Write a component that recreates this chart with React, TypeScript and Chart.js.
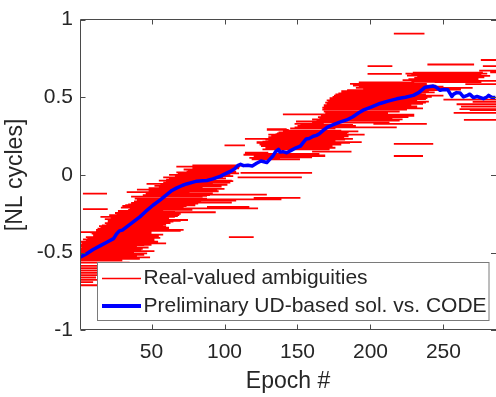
import React, { useEffect, useRef } from "react";
import { Chart, registerables } from "chart.js";

Chart.register(...registerables);

const FONT = "'Liberation Sans', Arial, Helvetica, sans-serif";
const TEXT = "#262626";

const xRange = [1, 286];
const yRange = [-1, 1];
const xTickValues = [50, 100, 150, 200, 250];
const yTickValues = [-1, -0.5, 0, 0.5, 1];
const xTitle = "Epoch #";
const yTitle = "[NL cycles]";
const seriesLabels = ["Real-valued ambiguities", "Preliminary UD-based sol. vs. CODE"];

// Preliminary UD-based solution vs. CODE (blue line)
const blueEpochs = [
  1, 5, 10, 15, 20, 24, 26, 28, 30, 35, 42, 46, 51, 56, 60, 64, 67, 71, 74, 78,
  81, 85, 88, 92, 97, 100, 104, 107, 109, 111, 113, 116, 119, 122, 125, 127, 129, 131, 133, 135,
  137, 138, 140, 142.6, 146, 149, 152, 154, 156, 158, 160.8, 163, 165, 168, 171, 175, 179, 183.7, 188, 192,
  195, 200, 206.6, 212, 218, 224, 229.4, 233, 237.5, 240, 243, 245, 247.7, 250, 253, 255.8, 257, 259, 261.5, 263.7,
  266, 268, 270.6, 273, 277.4, 279.8, 281, 283, 285.5,
];
const blueValues = [
  -0.53, -0.51, -0.48, -0.455, -0.43, -0.41, -0.38, -0.36, -0.355, -0.32, -0.27, -0.235, -0.195, -0.16, -0.13, -0.1, -0.085, -0.068, -0.058, -0.048,
  -0.04, -0.038, -0.036, -0.025, -0.009, 0.005, 0.023, 0.04, 0.06, 0.069, 0.06, 0.062, 0.058, 0.075, 0.09, 0.085, 0.08, 0.1, 0.12, 0.15,
  0.165, 0.147, 0.15, 0.143, 0.16, 0.175, 0.186, 0.21, 0.232, 0.235, 0.249, 0.255, 0.265, 0.29, 0.31, 0.325, 0.34, 0.354, 0.375, 0.4,
  0.417, 0.435, 0.46, 0.475, 0.49, 0.5, 0.512, 0.53, 0.565, 0.568, 0.572, 0.565, 0.545, 0.55, 0.548, 0.505, 0.52, 0.53, 0.527, 0.502,
  0.51, 0.52, 0.498, 0.505, 0.491, 0.502, 0.512, 0.5, 0.498,
];

// Real-valued ambiguities (horizontal segments): start epoch, end epoch, value
const segStart = [
  1, 1, 1, 1, 1, 1, 1, 1, 1, 1,
  1, 1, 1, 1, 1, 1, 1, 1, 1, 2,
  1, 3, 6, 5, 10, 10, 8, 1, 12, 12,
  15, 14, 19, 20, 22, 18, 15, 21, 25, 36,
  27, 34, 3, 35, 29, 88, 32, 42, 36, 44,
  42, 45, 38.5, 120, 36, 44, 50, 3, 33, 50,
  40, 48, 52, 46.6, 65, 55, 60, 58, 109, 62,
  70, 111, 67, 75, 72, 81, 67, 78, 99, 118.6,
  117, 120, 216, 138, 113, 114, 160, 125, 100, 216,
  122, 122, 126, 128, 137, 114, 130, 140, 132, 130,
  135, 137, 140, 129, 129, 145, 148, 150, 148, 202,
  160, 149, 163, 264, 165, 166, 140, 169, 257, 268,
  167, 261, 167, 168, 259, 169, 170, 250, 172, 175,
  178, 180, 195, 190, 188, 186, 265, 228, 260, 222,
  230, 225, 198, 224, 229, 282, 274.5, 198, 277, 239,
  275.6, 216, 103, 89, 192,
  1, 1, 1, 2, 4, 5, 8, 9, 13, 16,
  18, 20, 22, 24, 26, 28, 30, 34, 38, 40,
  44, 46, 48, 52, 55, 56, 58, 60, 62, 66,
  68, 74, 78, 120, 124, 126, 128, 124, 130, 134,
  136, 142, 150, 152, 160, 164, 166, 168, 168, 168,
  170, 171, 172, 174, 176, 180, 184, 192, 226, 232,
  228, 232, 236, 240, 244, 262, 270,
];
const segEnd = [
  13, 10, 16, 12, 20, 15, 22, 18, 26, 35,
  30, 42, 49, 45, 38, 52, 44, 40, 50, 60,
  54.5, 46, 52, 48, 55, 58, 50, 19.5, 70, 72,
  62, 60, 60, 65, 75, 55, 66, 69, 62, 94,
  58, 78, 20, 123, 72, 117, 80, 82, 70, 105,
  108, 139, 88, 152, 85, 90, 129, 19.5, 76, 95,
  80, 85, 97, 92, 98, 105, 94, 99, 153, 104,
  102, 160, 108, 104, 106, 108, 110.6, 108, 115, 151.7,
  138, 169, 236, 169, 131, 130, 187, 174, 114, 243,
  186, 194, 170, 182.6, 188, 138, 172, 185, 168, 196,
  178, 185, 191.7, 144, 142.6, 176, 218, 182, 168, 238.6,
  213, 179, 220, 286, 215, 230, 212, 212, 286, 286,
  225, 286, 232, 228, 286, 238, 232, 286, 239, 250,
  235, 240, 262, 270, 245, 238.6, 286, 268, 286, 272,
  265, 270, 221.5, 280, 277, 286, 286, 215, 286, 271,
  286, 237, 120, 100, 230,
  40, 47, 43, 48, 45, 52, 56, 50, 62, 58,
  63, 70, 62, 68, 70, 66, 74, 80, 84, 90,
  88, 92, 96, 100, 98, 102, 104, 106, 101, 106,
  110, 108, 110, 160, 165, 172, 176, 180, 176, 182,
  184, 180, 190, 188, 222, 226, 230, 220, 236, 232,
  236, 240, 238, 242, 238, 244, 246, 250, 274, 270,
  276, 278, 272, 282, 276, 286, 286,
];
const segValue = [
  -0.71, -0.69, -0.675, -0.66, -0.645, -0.63, -0.615, -0.6, -0.585, -0.565,
  -0.55, -0.54, -0.53, -0.515, -0.5, -0.49, -0.475, -0.46, -0.45, -0.44,
  -0.43, -0.415, -0.41, -0.4, -0.395, -0.384, -0.37, -0.368, -0.36, -0.353,
  -0.34, -0.33, -0.317, -0.3, -0.29, -0.285, -0.27, -0.258, -0.245, -0.24,
  -0.232, -0.225, -0.22, -0.215, -0.21, -0.205, -0.195, -0.185, -0.18, -0.178,
  -0.165, -0.157, -0.153, -0.148, -0.14, -0.13, -0.127, -0.12, -0.11, -0.1,
  -0.095, -0.085, -0.07, -0.058, -0.045, -0.036, -0.03, -0.015, -0.015, 0.0,
  0.005, 0.014, 0.016, 0.03, 0.035, 0.048, 0.054, 0.062, 0.06, 0.1,
  0.11, 0.122, 0.122, 0.126, 0.13, 0.143, 0.15, 0.185, 0.19, 0.2,
  0.206, 0.211, 0.215, 0.227, 0.232, 0.232, 0.243, 0.249, 0.255, 0.26,
  0.262, 0.274, 0.28, 0.29, 0.295, 0.3, 0.306, 0.31, 0.329, 0.329,
  0.337, 0.344, 0.35, 0.354, 0.365, 0.38, 0.39, 0.396, 0.4, 0.417,
  0.42, 0.424, 0.434, 0.45, 0.455, 0.465, 0.48, 0.485, 0.495, 0.51,
  0.525, 0.54, 0.55, 0.56, 0.575, 0.586, 0.585, 0.6, 0.605, 0.61,
  0.625, 0.64, 0.65, 0.652, 0.658, 0.66, 0.672, 0.7, 0.7, 0.711,
  0.74, 0.91, -0.4, -0.21, 0.595,
  -0.523, -0.505, -0.482, -0.467, -0.452, -0.422, -0.405, -0.377, -0.345, -0.325,
  -0.31, -0.295, -0.278, -0.265, -0.25, -0.238, -0.2, -0.19, -0.17, -0.16,
  -0.135, -0.118, -0.105, -0.09, -0.075, -0.063, -0.05, -0.04, -0.022, -0.008,
  0.01, 0.022, 0.042, 0.114, 0.135, 0.165, 0.175, 0.195, 0.22, 0.237,
  0.268, 0.285, 0.315, 0.322, 0.358, 0.372, 0.388, 0.408, 0.428, 0.442,
  0.458, 0.472, 0.488, 0.503, 0.518, 0.532, 0.546, 0.568, 0.617, 0.632,
  0.645, 0.628, 0.612, 0.638, 0.597, 0.44, 0.47,
];

const framePlugin = {
  id: "matlabFrame",
  afterDraw(chart: any) {
    const { ctx, chartArea: a, scales } = chart;
    const L = Math.floor(a.left) + 0.5;
    const T = Math.round(a.top) - 0.5;
    const B = Math.round(a.bottom) - 0.5;
    const R = a.right;
    const tl = 5;
    ctx.save();
    ctx.strokeStyle = "#4a4a4a";
    ctx.lineWidth = 1;
    ctx.beginPath();
    ctx.moveTo(R, T);
    ctx.lineTo(L, T);
    ctx.lineTo(L, B);
    ctx.lineTo(R, B);
    for (const v of xTickValues) {
      const px = Math.round(scales.x.getPixelForValue(v)) + 0.5;
      ctx.moveTo(px, B);
      ctx.lineTo(px, B - tl);
      ctx.moveTo(px, T);
      ctx.lineTo(px, T + tl);
    }
    for (const v of yTickValues) {
      const py = Math.round(scales.y.getPixelForValue(v)) + 0.5;
      ctx.moveTo(L, py);
      ctx.lineTo(L + tl, py);
      ctx.moveTo(R, py);
      ctx.lineTo(R - tl, py);
    }
    ctx.stroke();

    // legend
    const bx = 97.5, by = 262.5, bw = 391.5, bh = 58;
    ctx.fillStyle = "#ffffff";
    ctx.fillRect(bx, by, bw, bh);
    ctx.strokeStyle = "#7a7a7a";
    ctx.strokeRect(bx, by, bw, bh);
    const rows = [278.5, 306];
    const order = [1, 0];
    chart.data.datasets.forEach((ds: any, i: number) => {
      const row = rows[order[i]];
      ctx.strokeStyle = ds.borderColor;
      ctx.lineWidth = i === 0 ? 4 : 1.5;
      ctx.beginPath();
      ctx.moveTo(102, row);
      ctx.lineTo(141, row);
      ctx.stroke();
      ctx.fillStyle = TEXT;
      ctx.font = `21px ${FONT}`;
      ctx.textBaseline = "middle";
      ctx.textAlign = "left";
      ctx.fillText(ds.label, 143.5, row);
    });
    ctx.restore();
  },
};

export default function App() {
  const ref = useRef<HTMLCanvasElement>(null);
  useEffect(() => {
    const canvas = ref.current;
    if (!canvas) return;
    const segData: any[] = [];
    for (let i = 0; i < segStart.length; i++) {
      segData.push({ x: segStart[i], y: segValue[i] });
      segData.push({ x: segEnd[i], y: segValue[i] });
      segData.push({ x: segEnd[i], y: null });
    }
    const blueData = blueEpochs.map((e, i) => ({ x: e, y: blueValues[i] }));
    const chart = new Chart(canvas, {
      type: "line",
      data: {
        datasets: [
          {
            label: seriesLabels[1],
            data: blueData,
            borderColor: "#0000ff",
            borderWidth: 3.5,
            pointRadius: 0,
            tension: 0,
            order: 0,
            borderJoinStyle: "round",
          },
          {
            label: seriesLabels[0],
            data: segData,
            borderColor: "#ff0000",
            borderWidth: 1.8,
            pointRadius: 0,
            spanGaps: false,
            order: 1,
            borderCapStyle: "butt",
          },
        ],
      },
      options: {
        animation: false,
        responsive: false,
        devicePixelRatio: 1,
        layout: { padding: { top: 15, right: 0, left: 0, bottom: 0 } },
        plugins: { legend: { display: false }, tooltip: { enabled: false } },
        scales: {
          x: {
            type: "linear",
            min: xRange[0],
            max: xRange[1],
            afterBuildTicks: (s: any) => {
              s.ticks = xTickValues.map((v) => ({ value: v }));
            },
            afterFit: (s: any) => {
              s.height = 66.7;
            },
            grid: { display: false, drawTicks: false },
            border: { display: false },
            ticks: {
              font: { family: FONT, size: 21 },
              color: TEXT,
              padding: 9,
              maxRotation: 0,
              autoSkip: false,
              callback: (v: any) => String(v),
            },
            title: {
              display: true,
              text: xTitle,
              font: { family: FONT, size: 23 },
              color: TEXT,
              padding: { top: 0, bottom: 2 },
            },
          },
          y: {
            type: "linear",
            min: yRange[0],
            max: yRange[1],
            afterBuildTicks: (s: any) => {
              s.ticks = yTickValues.map((v) => ({ value: v }));
            },
            afterFit: (s: any) => {
              s.width = 80;
            },
            grid: { display: false, drawTicks: false },
            border: { display: false },
            ticks: {
              font: { family: FONT, size: 21 },
              color: TEXT,
              padding: 7,
              autoSkip: false,
              callback: (v: any) => String(v),
            },
            title: {
              display: true,
              text: yTitle,
              font: { family: FONT, size: 23 },
              color: TEXT,
              padding: { top: 2, bottom: 0 },
            },
          },
        },
      },
      plugins: [framePlugin],
    } as any);
    return () => chart.destroy();
  }, []);
  return (
    <div style={{ position: "fixed", left: 0, top: 0, width: 496, height: 397, background: "#fff" }}>
      <canvas ref={ref} width={496} height={397} style={{ display: "block" }} />
    </div>
  );
}
